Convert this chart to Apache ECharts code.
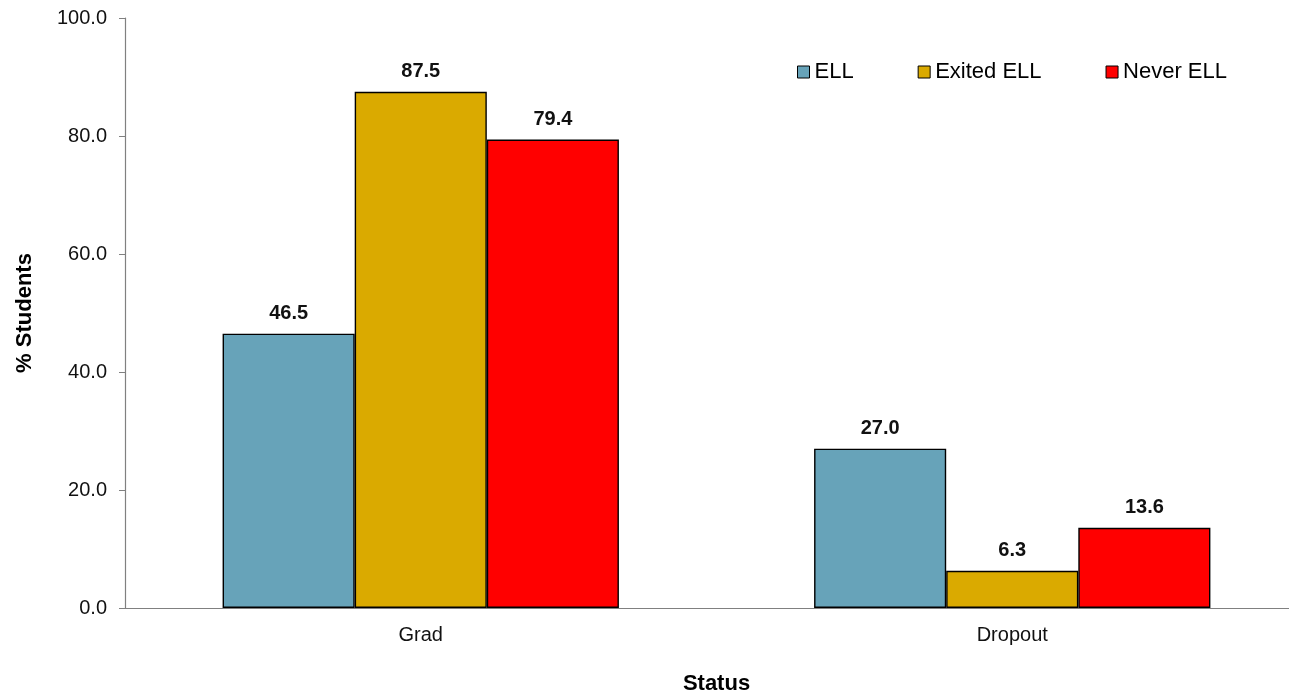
<!DOCTYPE html>
<html>
<head>
<meta charset="utf-8">
<script src="https://cdn.jsdelivr.net/npm/echarts@6/dist/echarts.min.js"></script>
<style>html,body{margin:0;padding:0;background:#fff;overflow:hidden}#c{width:1289px;height:692px}</style>
</head>
<body>
<div id="c"></div>
<script>
const categories = ['Grad', 'Dropout'];
const seriesNames = ['ELL', 'Exited ELL', 'Never ELL'];
const ell = [46.5, 27.0];
const exitedEll = [87.5, 6.3];
const neverEll = [79.4, 13.6];
const yTicks = [0, 20, 40, 60, 80, 100];

const colors = ['#67A3B9', '#DAAA00', '#FF0000'];
const font = 'Liberation Sans, Arial, sans-serif';
const chart = echarts.init(document.getElementById('c'));
const mk = (name, data, color) => ({
  name, type: 'bar', data, barGap: '0%', barCategoryGap: '33%',
  itemStyle: { color, borderColor: '#000', borderWidth: 1.4 },
  label: { show: true, position: 'top', distance: 10, fontFamily: font, fontWeight: 'bold', fontSize: 20, color: '#111',
    formatter: p => p.value.toFixed(1) }
});
chart.setOption({
  animation: false,
  textStyle: { fontFamily: font },
  grid: { left: 125, top: 18, width: 1183, height: 590, containLabel: false, outerBoundsMode: 'none' },
  legend: {
    left: 792, top: 56, itemWidth: 12, itemHeight: 12, itemGap: 64,
    icon: 'rect',
    itemStyle: { borderColor: '#000', borderWidth: 1 },
    textStyle: { fontFamily: font, fontSize: 22, color: '#000' },
    data: seriesNames
  },
  xAxis: {
    type: 'category', data: categories,
    name: 'Status', nameLocation: 'middle', nameGap: 65,
    nameTextStyle: { fontFamily: font, fontWeight: 'bold', fontSize: 22, color: '#000' },
    axisLine: { lineStyle: { color: '#808080', width: 1.2 } },
    axisTick: { show: false },
    axisLabel: { fontFamily: font, fontSize: 20, color: '#111', margin: 17 }
  },
  yAxis: {
    type: 'value', min: 0, max: 100, interval: 20,
    name: '% Students', nameLocation: 'middle', nameGap: 89, nameRotate: 90,
    nameTextStyle: { fontFamily: font, fontWeight: 'bold', fontSize: 22, color: '#000' },
    axisLine: { show: true, lineStyle: { color: '#808080', width: 1.2 } },
    axisTick: { show: true, length: 6, lineStyle: { color: '#808080' } },
    splitLine: { show: false },
    axisLabel: { fontFamily: font, fontSize: 20, color: '#111', margin: 18,
      formatter: v => yTicks.includes(v) ? v.toFixed(1) : '' }
  },
  series: [mk(seriesNames[0], ell, colors[0]), mk(seriesNames[1], exitedEll, colors[1]), mk(seriesNames[2], neverEll, colors[2])]
});
</script>
</body>
</html>
